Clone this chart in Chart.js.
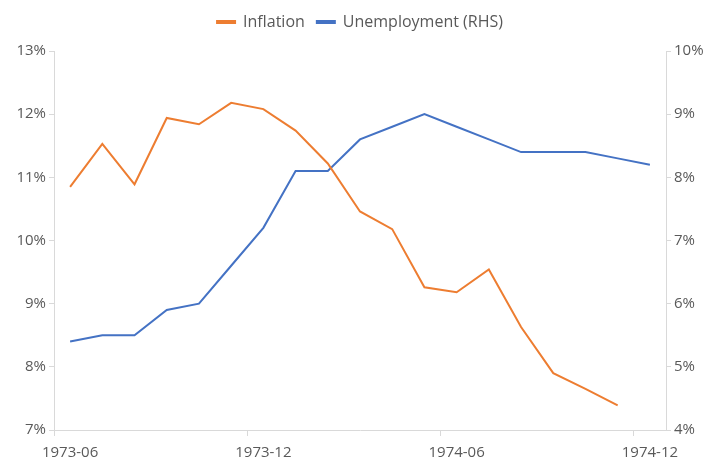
<!DOCTYPE html>
<html>
<head>
<meta charset="utf-8">
<script src="https://cdn.jsdelivr.net/npm/chart.js@4"></script>
<style>
  html, body { margin: 0; padding: 0; background: #fff; }
  #wrap { width: 720px; height: 469px; }
</style>
</head>
<body>
<div id="wrap"><canvas id="chart"></canvas></div>
<script>
// ===== DATA =====
const months = [
  '1973-06', '1973-07', '1973-08', '1973-09', '1973-10', '1973-11', '1973-12',
  '1974-01', '1974-02', '1974-03', '1974-04', '1974-05', '1974-06',
  '1974-07', '1974-08', '1974-09', '1974-10', '1974-11', '1974-12'
];
const inflation = [10.85, 11.53, 10.89, 11.94, 11.84, 12.18, 12.08, 11.74, 11.22,
  10.46, 10.18, 9.26, 9.18, 9.54, 8.63, 7.90, 7.65, 7.39, null];
const unemployment = [5.4, 5.5, 5.5, 5.9, 6.0, 6.6, 7.2, 8.1, 8.1,
  8.6, 8.8, 9.0, 8.8, 8.6, 8.4, 8.4, 8.4, 8.3, 8.2];

const ORANGE = '#ED7D31';
const BLUE = '#4472C4';
const AXIS = '#d9d9d9';
const TEXT = '#595959';

Chart.defaults.font.family = "'Open Sans', sans-serif";
Chart.defaults.color = TEXT;

// extra space under the legend
const legendGap = {
  id: 'legendGap',
  beforeInit(chart) {
    const fit = chart.legend.fit;
    chart.legend.fit = function () {
      fit.bind(chart.legend)();
      this.height += 11;
    };
  }
};

new Chart(document.getElementById('chart'), {
  type: 'line',
  data: {
    labels: months,
    datasets: [
      {
        label: 'Inflation',
        data: inflation,
        borderColor: ORANGE,
        backgroundColor: ORANGE,
        borderWidth: 2,
        pointRadius: 0,
        tension: 0,
        yAxisID: 'y'
      },
      {
        label: 'Unemployment (RHS)',
        data: unemployment,
        borderColor: BLUE,
        backgroundColor: BLUE,
        borderWidth: 2,
        pointRadius: 0,
        tension: 0,
        yAxisID: 'y2'
      }
    ]
  },
  plugins: [legendGap],
  options: {
    responsive: true,
    maintainAspectRatio: false,
    animation: false,
    layout: { padding: { top: 2, bottom: 0, left: 0, right: 0 } },
    plugins: {
      legend: {
        position: 'top',
        labels: {
          font: { size: 16 },
          color: TEXT,
          boxWidth: 18,
          boxHeight: 2,
          padding: 12
        }
      },
      tooltip: { enabled: false }
    },
    scales: {
      x: {
        offset: true,
        grid: {
          offset: true,
          drawOnChartArea: false,
          tickLength: 6,
          color: (ctx) => (ctx.index % 6 === 0 ? AXIS : 'rgba(0,0,0,0)')
        },
        border: { color: AXIS },
        ticks: {
          autoSkip: false,
          maxRotation: 0,
          font: { size: 15 },
          padding: 8,
          callback: function (val, i) {
            return i % 6 === 0 ? this.getLabelForValue(val) : '';
          }
        },
        afterFit: (s) => { s.height = 39; }
      },
      y: {
        position: 'left',
        min: 7,
        max: 13,
        ticks: { stepSize: 1, font: { size: 15 }, callback: (v) => v + '%' },
        grid: { drawOnChartArea: false, tickLength: 5, color: AXIS },
        border: { color: AXIS },
        afterFit: (s) => { s.width = 54; }
      },
      y2: {
        position: 'right',
        min: 4,
        max: 10,
        ticks: { stepSize: 1, font: { size: 15 }, callback: (v) => v + '%' },
        grid: { drawOnChartArea: false, tickLength: 5, color: AXIS },
        border: { color: AXIS },
        afterFit: (s) => { s.width = 54; }
      }
    }
  }
});
</script>
</body>
</html>
